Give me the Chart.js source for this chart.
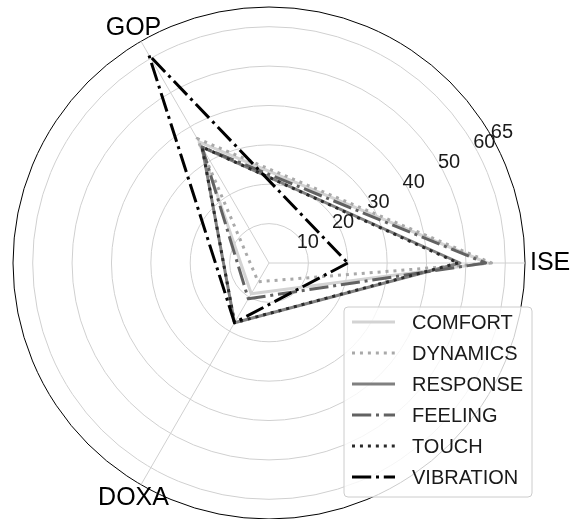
<!DOCTYPE html>
<html>
<head>
<meta charset="utf-8">
<script src="https://cdn.jsdelivr.net/npm/chart.js@4.4.1/dist/chart.umd.min.js"></script>
<style>
  html, body { margin: 0; padding: 0; background: #fff; }
  #wrap { width: 571px; height: 519px; }
</style>
</head>
<body>
<div id="wrap"><canvas id="radar"></canvas></div>
<script>
// axes, clockwise starting from the right
const axes = ['ISE', 'DOXA', 'GOP'];

// values per axis (ISE, DOXA, GOP)
const comfort   = [55.5, 9, 35.5];
const dynamics  = [56.5, 5.5, 36.5];
const response  = [48.5, 17.5, 34];
const feeling   = [55, 10.5, 34];
const touch     = [48, 17.5, 34];
const vibration = [20, 17.5, 61];

const seriesNames = ['COMFORT', 'DYNAMICS', 'RESPONSE', 'FEELING', 'TOUCH', 'VIBRATION'];
const seriesValues = [comfort, dynamics, response, feeling, touch, vibration];

const tickValues = [10, 20, 30, 40, 50, 60, 65];
const rMax = 65;

// line styles (matplotlib-ish, lw 3)
const DOT = [3, 4.95];
const DASHDOT = [19.2, 4.8, 3, 4.8];
const styles = [
  { color: '#d3d3d3', dash: [] },
  { color: '#a9a9a9', dash: DOT },
  { color: '#808080', dash: [] },
  { color: '#626262', dash: DASHDOT },
  { color: '#2a2a2a', dash: DOT },
  { color: '#000000', dash: DASHDOT },
];

const FONT = '"Liberation Sans", Arial, sans-serif';

const datasets = seriesNames.map((name, i) => ({
  label: name,
  data: seriesValues[i],
  borderColor: styles[i].color,
  borderDash: styles[i].dash,
  borderWidth: 3,
  borderJoinStyle: 'round',
  fill: false,
  pointRadius: 0,
  pointHoverRadius: 0,
  order: seriesNames.length - i,
}));

// tick labels, axis names and the legend box drawn by hand
const decorations = {
  id: 'decorations',
  afterDatasetsDraw(chart) {
    const ctx = chart.ctx;
    const scale = chart.scales.r;
    const cx = scale.xCenter, cy = scale.yCenter;

    // radial tick labels along ~29.5 deg
    const a = 29.5 * Math.PI / 180;
    ctx.save();
    ctx.font = '20px ' + FONT;
    ctx.fillStyle = '#1a1a1a';
    ctx.textAlign = 'center';
    ctx.textBaseline = 'middle';
    tickValues.forEach(v => {
      const d = scale.getDistanceFromCenterForValue(v) * 1.03 + 4;
      ctx.fillText(String(v), cx + d * Math.cos(a), cy - d * Math.sin(a) + 1);
    });

    // axis names
    ctx.font = '25px ' + FONT;
    ctx.fillStyle = '#000';
    axes.forEach((name, i) => {
      const p0 = scale.getPointPosition(i, scale.drawingArea);
      const ux = (p0.x - cx) / scale.drawingArea;
      if (Math.abs(ux) > 0.99) {
        const p = scale.getPointPosition(i, scale.drawingArea + 5);
        ctx.textAlign = 'left';
        ctx.fillText(name, p.x, p.y);
      } else {
        const p = scale.getPointPosition(i, scale.drawingArea + 15);
        ctx.textAlign = 'center';
        ctx.fillText(name, p.x, p.y);
      }
    });
    ctx.restore();

    // legend
    const bx = 344, by = 307, bw = 188, bh = 190;
    ctx.save();
    ctx.beginPath();
    ctx.roundRect(bx, by, bw, bh, 4);
    ctx.fillStyle = 'rgba(255,255,255,0.8)';
    ctx.fill();
    ctx.strokeStyle = '#cccccc';
    ctx.lineWidth = 1;
    ctx.stroke();
    ctx.font = '20px ' + FONT;
    ctx.textAlign = 'left';
    ctx.textBaseline = 'middle';
    seriesNames.forEach((name, i) => {
      const y = by + 15 + i * 31;
      ctx.beginPath();
      ctx.setLineDash(styles[i].dash);
      ctx.lineCap = 'butt';
      ctx.strokeStyle = styles[i].color;
      ctx.lineWidth = 3;
      ctx.moveTo(bx + 8, y);
      ctx.lineTo(bx + 51, y);
      ctx.stroke();
      ctx.setLineDash([]);
      ctx.fillStyle = '#1a1a1a';
      ctx.fillText(name, bx + 68, y + 1);
    });
    ctx.restore();
  }
};

new Chart(document.getElementById('radar'), {
  type: 'radar',
  data: { labels: axes, datasets: datasets },
  options: {
    responsive: true,
    maintainAspectRatio: false,
    animation: false,
    layout: { padding: { left: 13, right: 46, top: 7, bottom: 0 } },
    elements: { line: { tension: 0 } },
    plugins: { legend: { display: false }, tooltip: { enabled: false } },
    scales: {
      r: {
        min: 0,
        max: rMax,
        startAngle: 90,
        afterBuildTicks: (scale) => {
          scale.ticks = [0].concat(tickValues).map(v => ({ value: v }));
        },
        ticks: { display: false },
        pointLabels: { display: false },
        grid: {
          circular: true,
          lineWidth: 1,
          color: (c) => (c.tick && c.tick.value === rMax) ? '#000000' : '#d0d0d0',
        },
        angleLines: { color: '#d0d0d0', lineWidth: 1 },
      }
    }
  },
  plugins: [decorations]
});
</script>
</body>
</html>
